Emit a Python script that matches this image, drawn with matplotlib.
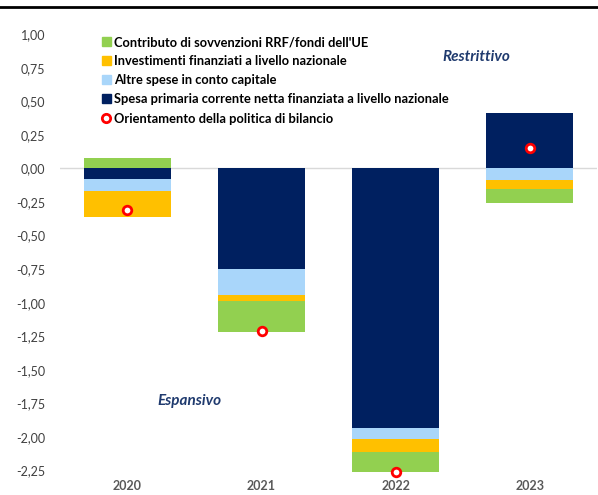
import numpy as np
import matplotlib.pyplot as plt
from matplotlib.patches import Patch
from matplotlib.lines import Line2D
from matplotlib.ticker import FuncFormatter

plt.rcParams['font.family'] = ['Lato', 'DejaVu Sans']

anni = ['2020', '2021', '2022', '2023']

# componenti (punti percentuali)
spesa_corrente = [-0.08, -0.75, -1.93, 0.41]
altre_capitale = [-0.085, -0.19, -0.085, -0.085]
investimenti = [-0.20, -0.045, -0.10, -0.07]
sovvenzioni_rrf = [0.08, -0.23, -0.145, -0.105]
orientamento = [-0.31, -1.21, -2.26, 0.15]

serie = [
    (spesa_corrente, '#002060', 'Spesa primaria corrente netta finanziata a livello nazionale'),
    (altre_capitale, '#A9D6FA', 'Altre spese in conto capitale'),
    (investimenti, '#FFC000', 'Investimenti finanziati a livello nazionale'),
    (sovvenzioni_rrf, '#92D050', "Contributo di sovvenzioni RRF/fondi dell'UE"),
]

fig = plt.figure(figsize=(5.98, 4.95), dpi=100)
ax = fig.add_axes([0.101, 0.044, 0.897, 0.887])

# barre impilate: positivi verso l'alto, negativi verso il basso
x = np.arange(len(anni))
pos = np.zeros(len(anni))
neg = np.zeros(len(anni))
for vals, col, lab in serie:
    v = np.array(vals)
    base = np.where(v >= 0, pos, neg)
    ax.bar(x, v, 0.65, bottom=base, color=col, linewidth=0, zorder=2)
    pos += np.where(v >= 0, v, 0)
    neg += np.where(v < 0, v, 0)

ax.scatter(x, orientamento, s=38, facecolor='white', edgecolor='#FF0000',
           linewidth=2, zorder=4, clip_on=False)

ax.axhline(0, color='#D9D9D9', linewidth=1, zorder=1)

ax.set_xlim(-0.5, 3.5)
ax.set_ylim(-2.27, 1.0)
ax.set_yticks(np.arange(-2.25, 1.01, 0.25))
ax.yaxis.set_major_formatter(FuncFormatter(lambda v, p: f'{v:.2f}'.replace('.', ',')))
ax.set_xticks(x)
ax.set_xticklabels(anni, fontweight='bold', color='#595959')
ax.tick_params(axis='both', length=0, labelsize=9)
ax.tick_params(axis='y', pad=11, labelcolor='#404040')
ax.tick_params(axis='x', pad=5)
for s in ax.spines.values():
    s.set_visible(False)

handles = [Patch(color=c, label=l) for _, c, l in serie[::-1]]
handles.append(Line2D([], [], marker='o', linestyle='none', markersize=6,
                      markerfacecolor='white', markeredgecolor='#FF0000',
                      markeredgewidth=2, label='Orientamento della politica di bilancio'))
ax.legend(handles=handles, loc='upper left', bbox_to_anchor=(0.055, 1.022),
          frameon=False, handlelength=0.7, handleheight=0.7, handletextpad=0.3,
          labelspacing=0.55, prop={'size': 9.3, 'weight': 'bold'})

ax.text(2.35, 0.83, 'Restrittivo', fontsize=11, fontweight='bold', style='italic',
        color='#1F3A6E', va='center')
ax.text(0.22, -1.73, 'Espansivo', fontsize=11, fontweight='bold', style='italic',
        color='#1F3A6E', va='center')

fig.add_artist(Line2D([0, 1], [0.986, 0.986], transform=fig.transFigure,
                      color='black', linewidth=2))

fig.savefig('out.png', dpi=100)
